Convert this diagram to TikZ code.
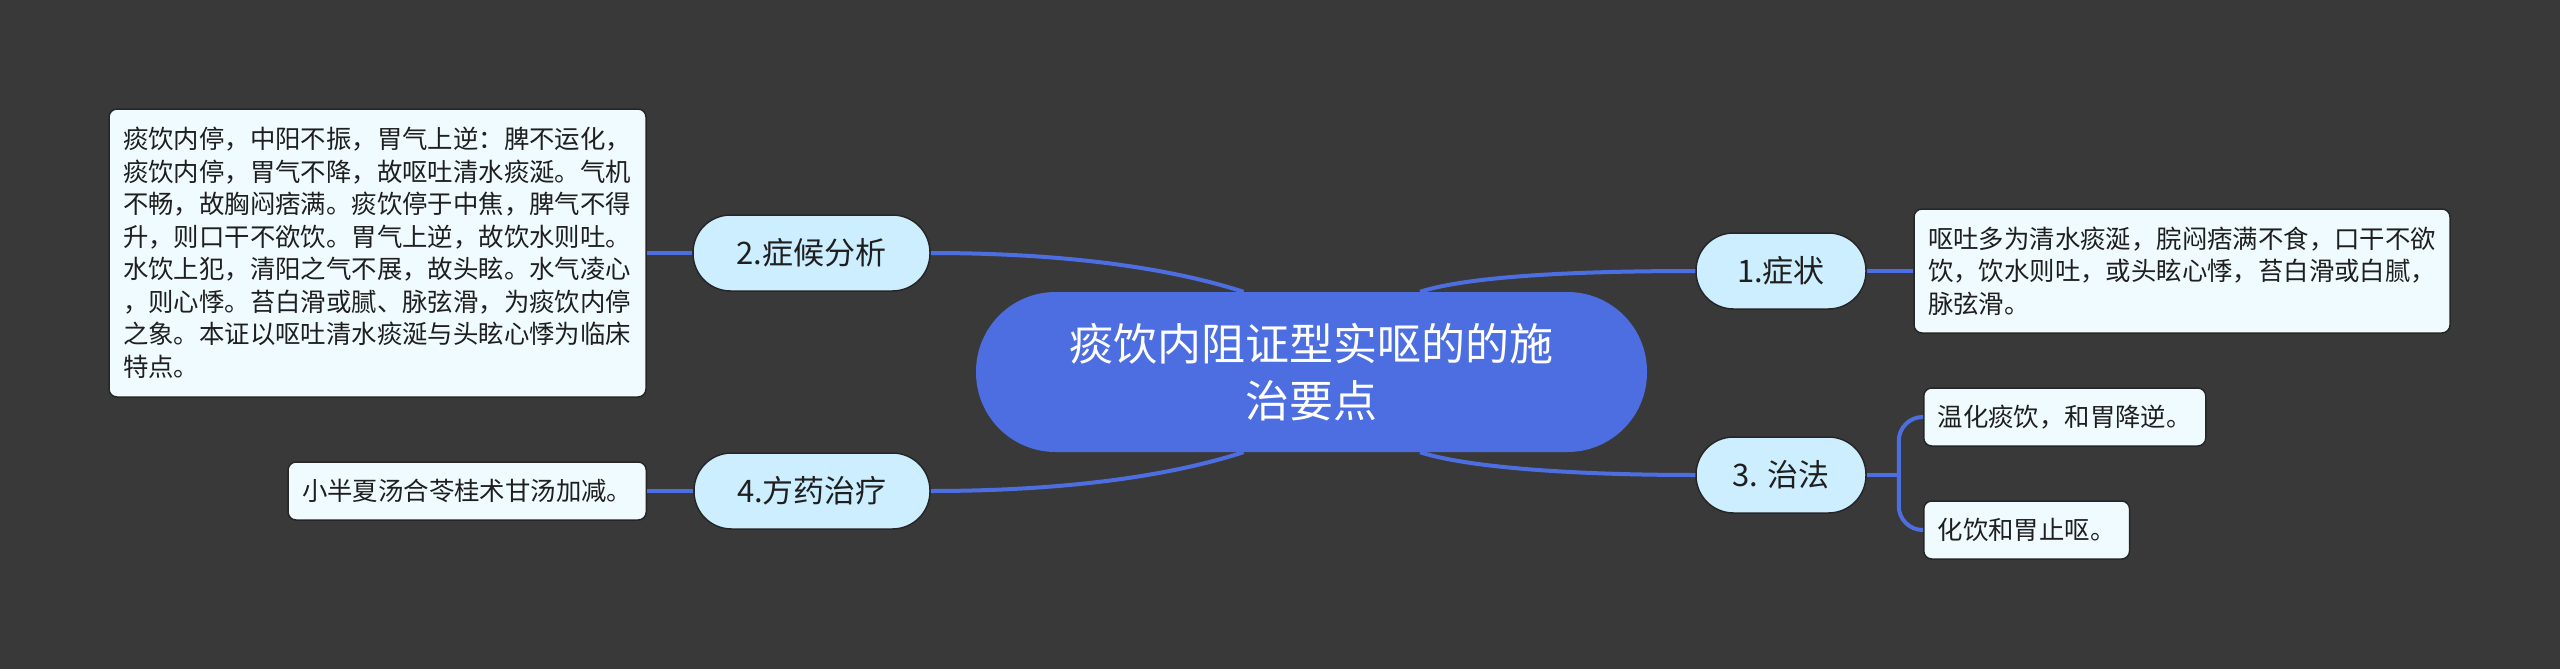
\documentclass[tikz,border=0pt]{standalone}
\usepackage{fontspec}
\newfontfamily\cjk{Noto Sans CJK SC}
\definecolor{bgdark}{HTML}{3A393A}
\definecolor{mainblue}{HTML}{4C6EE0}
\definecolor{topicblue}{HTML}{CCEEFF}
\definecolor{leafwhite}{HTML}{F0FBFF}
\definecolor{rim}{HTML}{262626}

\begin{document}
\begin{tikzpicture}[x=1pt, y=-1pt,
  zhuti/.style={fill=mainblue, text=white, rounded corners=79.5, minimum width=671, minimum height=160, align=center, font=\cjk\fontsize{44}{57}\selectfont},
  topic/.style={fill=topicblue, draw=rim, line width=1.5, rounded corners=37.5, minimum height=76, font=\cjk\fontsize{31}{36}\selectfont, text=black!88},
  leaf/.style={fill=leafwhite, draw=rim, line width=1.5, rounded corners=8, inner xsep=14, align=left, font=\cjk\fontsize{25.4}{32.5}\selectfont, text=black!88},
  link/.style={draw=mainblue, line width=4}]
\fill[bgdark] (0,0) rectangle (2560,669);

\node[zhuti] (zhuti) at (1311.5,372) {痰饮内阻证型实呕的的施\\治要点};

\node[topic, minimum width=170] (zhengzhuang) at (1781,271) {1.症状};
\node[topic, minimum width=237] (fenxi) at (811.5,253) {2.症候分析};
\node[topic, minimum width=170] (zhifa) at (1781,475) {3. 治法};
\node[topic, minimum width=236] (fangyao) at (812,491) {4.方药治疗};

\node[leaf, text width=508, minimum height=124] (zz-txt) at (2182,271) {呕吐多为清水痰涎，脘闷痞满不食，口干不欲\\饮，饮水则吐，或头眩心悸，苔白滑或白腻，\\脉弦滑。};
\node[leaf, text width=509, minimum height=288] (fenxi-txt) at (377.5,253) {痰饮内停，中阳不振，胃气上逆：脾不运化，\\痰饮内停，胃气不降，故呕吐清水痰涎。气机\\不畅，故胸闷痞满。痰饮停于中焦，脾气不得\\升，则口干不欲饮。胃气上逆，故饮水则吐。\\水饮上犯，清阳之气不展，故头眩。水气凌心\\，则心悸。苔白滑或腻、脉弦滑，为痰饮内停\\之象。本证以呕吐清水痰涎与头眩心悸为临床\\特点。};
\node[leaf, minimum height=58, anchor=west] (zf-a) at (1923,417) {温化痰饮，和胃降逆。};
\node[leaf, minimum height=58, anchor=west] (zf-b) at (1923,530) {化饮和胃止呕。};
\node[leaf, minimum height=58, anchor=east] (fy-txt) at (647,491) {小半夏汤合苓桂术甘汤加减。};

% main branches
\draw[link] ([xshift=-68]zhuti.north) .. controls +(-93,-30) and +(102,0) .. (fenxi.east);
\draw[link] ([xshift=108.5]zhuti.north) .. controls +(50,-16) and +(-116,0) .. (zhengzhuang.west);
\draw[link] ([xshift=-68]zhuti.south) .. controls +(-93,30) and +(102,0) .. (fangyao.east);
\draw[link] ([xshift=108.5]zhuti.south) .. controls +(50,16) and +(-116,0) .. (zhifa.west);

% leaves
\draw[link] (zhengzhuang.east) -- (zz-txt.west);
\draw[link] (fenxi.west) -- (fenxi-txt.east);
\draw[link] (fangyao.west) -- (fy-txt.east);
\draw[link] (zhifa.east) -- ++(32,0);
\draw[link, rounded corners=24] (zf-a.west) -| ([xshift=32]zhifa.east) |- (zf-b.west);
\end{tikzpicture}
\end{document}
